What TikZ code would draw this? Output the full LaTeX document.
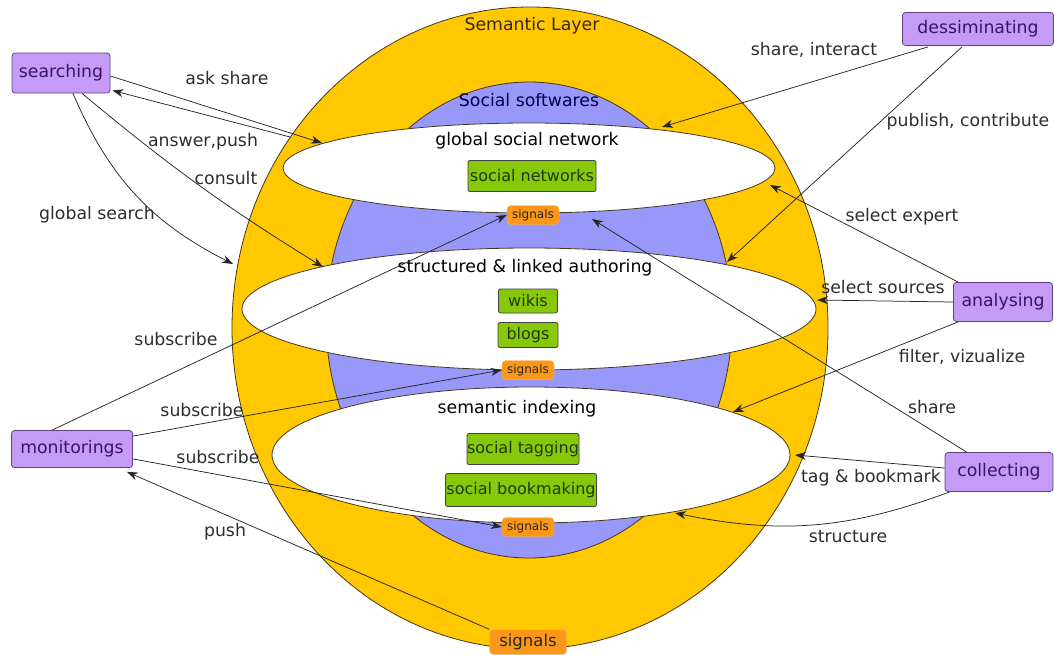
\documentclass[tikz,border=0pt]{standalone}
\usepackage{fontspec}
\setmainfont{DejaVu Sans}
\usetikzlibrary{arrows.meta,calc}

\definecolor{layergold}{RGB}{255,200,0}
\definecolor{softblue}{RGB}{152,152,250}
\definecolor{rimdark}{RGB}{70,55,30}
\definecolor{actlilac}{RGB}{198,155,248}
\definecolor{actborder}{RGB}{95,65,130}
\definecolor{acttext}{RGB}{55,20,100}
\definecolor{toolgreen}{RGB}{135,200,10}
\definecolor{tooltext}{RGB}{30,60,0}
\definecolor{sigorange}{RGB}{252,152,25}
\definecolor{sigrim}{RGB}{250,185,90}
\definecolor{labelgray}{RGB}{45,45,45}

\begin{document}
\begin{tikzpicture}[x=1pt,y=-1pt,
  activity/.style={draw=actborder, fill=actlilac, rounded corners=3pt, text=acttext,
    font=\fontsize{17.3}{19}\selectfont, inner sep=0pt, line width=0.8pt},
  tool/.style={draw=black!75, fill=toolgreen, rounded corners=2pt, text=tooltext,
    font=\fontsize{16}{18}\selectfont, inner sep=0pt, line width=0.8pt},
  sig/.style={draw=sigrim, fill=sigorange, rounded corners=4pt, text=black!85,
    font=\fontsize{12}{13}\selectfont, inner sep=0pt, minimum width=52pt, minimum height=19pt},
  bigsig/.style={sig, font=\fontsize{16.5}{18}\selectfont, minimum width=77pt, minimum height=25pt},
  lbl/.style={text=labelgray, font=\fontsize{17.3}{19}\selectfont, inner sep=0pt},
  layer/.style={draw=rimdark, line width=0.8pt},
  link/.style={draw=black!85, line width=0.75pt, -{Stealth[length=11pt,width=8pt]}}
]
\useasboundingbox (0,0) rectangle (1054,654);

% nested layers
\filldraw[layer, fill=layergold] (530,328) ellipse [x radius=298pt, y radius=321pt];
\filldraw[layer, fill=softblue] (529,320) ellipse [x radius=203pt, y radius=238pt];
\filldraw[layer, fill=white] (529,168) ellipse [x radius=246pt, y radius=45pt];
\filldraw[layer, fill=white] (529,309) ellipse [x radius=287pt, y radius=61pt];
\filldraw[layer, fill=white] (531,455) ellipse [x radius=259pt, y radius=68pt];

% layer titles
\node[lbl, text=black!70!brown] (semlayer) at (532,26) {Semantic Layer};
\node[lbl, text=blue!30!black] (socsoft) at (529,100) {Social softwares};
\node[lbl, text=black] (gsn) at (527,141) {global social network};
\node[lbl, text=black] (sla) at (525,268) {structured \& linked authoring};
\node[lbl, text=black] (semidx) at (517,409) {semantic indexing};

% tools
\node[tool, minimum width=128pt, minimum height=31pt] (socnet) at (532,176) {social networks};
\node[tool, minimum width=59pt, minimum height=24pt] (wikis) at (528,301) {wikis};
\node[tool, minimum width=60pt, minimum height=25pt] (blogs) at (528,335) {blogs};
\node[tool, minimum width=112pt, minimum height=31pt] (tagging) at (523,449) {social tagging};
\node[tool, minimum width=151pt, minimum height=33pt] (bookmk) at (521,490) {social bookmaking};

% signal points
\node[sig] (sigA) at (533,215) {signals};
\node[sig] (sigB) at (528,370) {signals};
\node[sig] (sigC) at (528,527) {signals};
\node[bigsig] (sigD) at (528,642) {signals};

% activities
\node[activity, minimum width=98pt, minimum height=40pt] (searching) at (61,73) {searching};
\node[activity, minimum width=151pt, minimum height=33pt] (dessim) at (978,29) {dessiminating};
\node[activity, minimum width=99pt, minimum height=39pt] (analys) at (1003,302) {analysing};
\node[activity, minimum width=121pt, minimum height=37pt] (monit) at (72,449) {monitorings};
\node[activity, minimum width=108pt, minimum height=39pt] (collect) at (999,472) {collecting};

% contact points on the layers
\coordinate (askT) at (322,143);
\coordinate (ansS) at (290,137);
\coordinate (conT) at (323,267);
\coordinate (gsT) at (233,264);
\coordinate (shiT) at (662,127);
\coordinate (pubT) at (727,262);
\coordinate (selexT) at (770,185);
\coordinate (selsrcT) at (817,300);
\coordinate (filT) at (733,412);
\coordinate (shrT) at (592,219);
\coordinate (tagT) at (795,455);
\coordinate (strT) at (675,513);

% searching
\draw[link] ($(searching.east)+(0,3)$) -- (askT);
\draw[link] (ansS) -- ($(searching.south east)+(2,-3)$);
\draw[link] ($(searching.south)+(21,0)$) to[bend right=4] (conT);
\draw[link] ($(searching.south)+(12,0)$) to[bend right=20] (gsT);
% dessiminating
\draw[link] ($(dessim.south)+(-50,1)$) -- (shiT);
\draw[link] ($(dessim.south)+(-16,1)$) -- (pubT);
% analysing
\draw[link] ($(analys.north west)+(5,0)$) -- (selexT);
\draw[link] (analys.west) -- (selsrcT);
\draw[link] ($(analys.south west)+(5,0)$) -- (filT);
% collecting
\draw[link] ($(collect.north west)+(22,0)$) -- (shrT);
\draw[link] ($(collect.west)+(0,-4)$) -- (tagT);
\draw[link] ($(collect.south west)+(5,0)$) to[bend left=16] (strT);
% monitorings
\draw[link] ($(monit.north west)+(41,0)$) -- (sigA.west);
\draw[link] ($(monit.north east)+(0,6)$) -- (sigB.west);
\draw[link] ($(monit.south east)+(0,-9)$) -- (sigC.west);
\draw[link] (sigD.north west) -- ($(monit.south east)+(-6,4)$);

% connector labels
\node[lbl] (l1) at (227,78) {ask share};
\node[lbl] (l2) at (203,142) {answer,push};
\node[lbl] (l3) at (226,178) {consult};
\node[lbl] (l4) at (97,215) {global search};
\node[lbl] (l5) at (814,50) {share, interact};
\node[lbl] (l6) at (968,122) {publish, contribute};
\node[lbl] (l7) at (902,217) {select expert};
\node[lbl] (l8) at (883,287) {select sources};
\node[lbl] (l9) at (962,357) {filter, vizualize};
\node[lbl] (l10) at (932,407) {share};
\node[lbl] (l11) at (871,478) {tag \& bookmark};
\node[lbl] (l12) at (848,537) {structure};
\node[lbl] (l13) at (176,339) {subscribe};
\node[lbl] (l14) at (202,410) {subscribe};
\node[lbl] (l15) at (218,457) {subscribe};
\node[lbl] (l16) at (225,532) {push};
\end{tikzpicture}
\end{document}
